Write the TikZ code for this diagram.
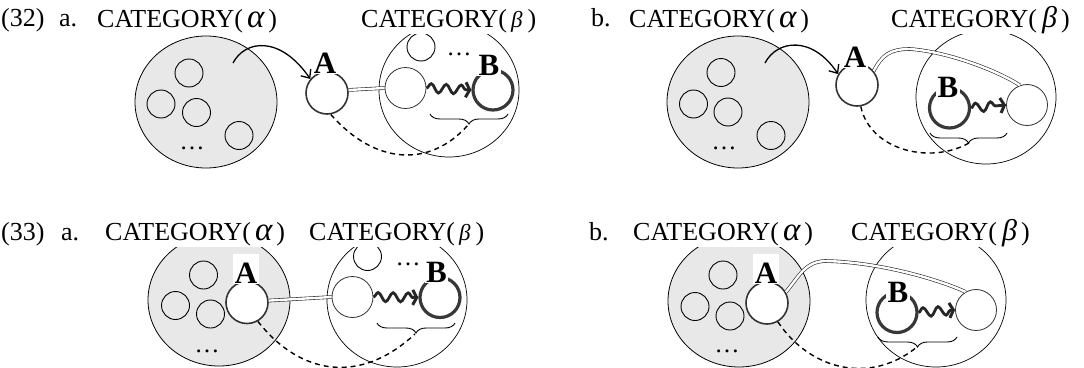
\documentclass[tikz,border=0pt]{standalone}
\usepackage{fontspec}
\setmainfont{Liberation Serif}
\usetikzlibrary{scopes,shapes.geometric,arrows.meta}
\usetikzlibrary{decorations.pathmorphing,decorations.pathreplacing}
\newcommand{\bigal}{{\fontsize{33}{33}\selectfont\itshape α}}
\newcommand{\smbe}{{\fontsize{23}{23}\selectfont\itshape β}}
\newcommand{\bigbe}{{\fontsize{30}{30}\selectfont\itshape β}}

\begin{document}
\begin{tikzpicture}[x=1pt,y=-1pt,
    cat/.style={ellipse,draw=black,fill=black!9,line width=0.8pt,minimum width=142pt,minimum height=132pt},
    grp/.style={ellipse,draw=black,line width=0.7pt,minimum width=140pt,minimum height=134pt},
    el/.style={circle,draw=black,line width=0.9pt,minimum size=28pt,inner sep=0pt},
    hd/.style={circle,draw=black!80,fill=white,line width=1.6pt,minimum size=42pt,inner sep=0pt},
    lf/.style={circle,draw=black!80,fill=white,line width=0.8pt,minimum size=41pt,inner sep=0pt},
    tg/.style={circle,draw=black!78,line width=3.2pt,minimum size=40pt,inner sep=0pt},
    ttl/.style={font=\fontsize{26}{26}\selectfont,fill=white,inner sep=1pt,anchor=base west},
    dots/.style={font=\fontsize{25}{25}\selectfont,inner sep=0pt,anchor=base},
    tag/.style={font=\bfseries\fontsize{31}{31}\selectfont,fill=white,inner xsep=1.5pt,inner ysep=0.5pt,text depth=0pt,anchor=base},
    tagA/.style={tag,text height=29pt},
    tagB/.style={tag,text height=20pt},
    link/.style={draw=black!85,line width=0.6pt,double=white,double distance=2.4pt},
    wave/.style={draw=black!85,line width=2.8pt,decorate,decoration={snake,segment length=15pt,amplitude=4.5pt,post length=4pt},-{Straight Barb[length=4pt,width=15pt,line width=3pt]}},
    dep/.style={draw=black,line width=1.4pt,dash pattern=on 5pt off 4pt},
    curv/.style={draw=black,line width=1.3pt,-{Straight Barb[length=7pt,width=12pt]}},
    br/.style={draw=black,line width=0.9pt,decorate,decoration={brace,mirror,amplitude=10pt}},
]
\path[use as bounding box,clip] (0,0) rectangle (1084,367);

% (32) a.
\node[cat] (c1) at (206,102) {};
\node[el] at (189,73) {};
\node[el] at (161,104) {};
\node[el] at (196.5,112.5) {};
\node[el] at (239,135.5) {};
\node[dots] (d1) at (192,149) {…};
\node[grp] (g1) at (449,90) {};
\node[el] at (421,47) {};
\node[dots] (e1) at (459,55) {…};
\node[hd] (a1) at (327,93) {};
\node[lf] (w1) at (405.5,88) {};
\node[tg] (b1) at (493,90) {};
\coordinate (s1) at (233,63);
\coordinate (t1) at (468,125);
\draw[curv] (s1) .. controls (245,40) and (280,35) .. (a1.140);
\draw[link] (a1.8) -- (w1.west);
\draw[wave] (w1.east) -- (b1.west);
\draw[br] (430,114) -- (508,114);
\draw[dep] (a1.-80) .. controls (375,165) and (430,168) .. (t1);
\node[tagA] (la1) at (325,73) {A};
\node[tagB] (lb1) at (489,75) {B};

% (32) b.
\node[cat] (c2) at (738,102) {};
\node[el] at (721,72.5) {};
\node[el] at (693.5,104) {};
\node[el] at (728,112) {};
\node[el] at (771,135.5) {};
\node[dots] (d2) at (724,149) {…};
\node[grp] (g2) at (986,97) {};
\node[hd] (a2) at (857,85) {};
\node[lf] (w2) at (1027,105) {};
\node[tg] (b2) at (949.5,108) {};
\coordinate (s2) at (765,63);
\coordinate (t2) at (969,143);
\draw[curv] (s2) .. controls (777,40) and (812,35) .. (a2.150);
\draw[link] (a2.40) .. controls (882,55) and (890,49) .. (910,49) .. controls (950,52) and (1000,72) .. (w2.110);
\draw[wave] (b2.east) -- (w2.west);
\draw[br] (930,133) -- (1007,133);
\draw[dep] (a2.-80) .. controls (870,150) and (930,165) .. (t2);
\node[tagA] (la2) at (855,67) {A};
\node[tagB] (lb2) at (948,97) {B};

% (33) a.
\node[cat] (c3) at (219,300) {};
\node[el] at (203.5,275) {};
\node[el] at (175.5,305.5) {};
\node[el] at (210.5,314) {};
\node[dots] (d3) at (207,352) {…};
\node[grp] (g3) at (397,300) {};
\node[el] at (367.5,256.5) {};
\node[dots] (e3) at (408,265) {…};
\node[hd] (a3) at (247,302.5) {};
\node[lf] (w3) at (352.5,297) {};
\node[tg] (b3) at (440,297.5) {};
\coordinate (t3) at (415,334);
\draw[link] (a3.5) -- (w3.west);
\draw[wave] (w3.east) -- (b3.west);
\draw[br] (377,323) -- (455,323);
\draw[dep] (a3.-60) .. controls (300,375) and (360,385) .. (t3);
\node[tagA] (la3) at (246,283) {A};
\node[tagB] (lb3) at (436.5,282) {B};

% (33) b.
\node[cat] (c4) at (739,301) {};
\node[el] at (723,275) {};
\node[el] at (695,306.5) {};
\node[el] at (730,316) {};
\node[dots] (d4) at (727,352) {…};
\node[grp] (g4) at (936,300) {};
\node[hd] (a4) at (767,303) {};
\node[lf] (w4) at (976,310) {};
\node[tg] (b4) at (897,312.5) {};
\coordinate (t4) at (917,347);
\draw[link] (a4.30) .. controls (800,275) and (805,262) .. (825,261) .. controls (880,262) and (940,280) .. (w4.120);
\draw[wave] (b4.east) -- (w4.west);
\draw[br] (878,337) -- (957,337);
\draw[dep] (a4.-60) .. controls (810,370) and (870,385) .. (t4);
\node[tagA] (la4) at (766,283) {A};
\node[tagB] (lb4) at (898,302) {B};

% headings
\node[ttl] (n32) at (0,26) {(32)};
\node[ttl] (p1) at (58,26) {a.};
\node[ttl] (h1) at (96,27) {CATEGORY(\kern4pt\bigal\kern4pt)};
\node[ttl] (k1) at (360,27) {CATEGORY(\kern4pt\smbe\kern5pt)};
\node[ttl] (p2) at (590,26) {b.};
\node[ttl] (h2) at (628,27) {CATEGORY(\kern4pt\bigal\kern4pt)};
\node[ttl] (k2) at (890,27) {CATEGORY(\kern5pt\bigbe\kern4pt)};
\node[ttl] (n33) at (0,240) {(33)};
\node[ttl] (p3) at (60,240) {a.};
\node[ttl] (h3) at (104,240) {CATEGORY(\kern4pt\bigal\kern4pt)};
\node[ttl] (k3) at (308,240) {CATEGORY(\kern4pt\smbe\kern5pt)};
\node[ttl] (p4) at (588,240) {b.};
\node[ttl] (h4) at (632,240) {CATEGORY(\kern4pt\bigal\kern4pt)};
\node[ttl] (k4) at (850,240) {CATEGORY(\kern5pt\bigbe\kern4pt)};
\end{tikzpicture}
\end{document}
